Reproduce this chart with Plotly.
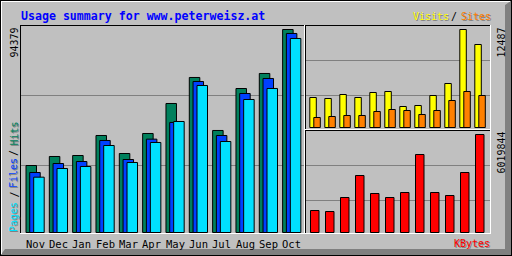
import plotly.graph_objects as go

# ---------------- data ----------------
months = ["Nov", "Dec", "Jan", "Feb", "Mar", "Apr", "May", "Jun", "Jul", "Aug", "Sep", "Oct"]
hits = [31150, 35340, 35800, 45100, 36730, 46030, 59980, 72070, 47430, 66950, 73930, 94379]
files = [27900, 32080, 33010, 42780, 33940, 43400, 51150, 70210, 45100, 64630, 71610, 92530]
pages = [25730, 29760, 30690, 40450, 32550, 41850, 51610, 68350, 42310, 61840, 66960, 90210]
visits = [3823, 3695, 4205, 3823, 4460, 4587, 2676, 2803, 4077, 5606, 12487, 10575]
sites = [1274, 1402, 1529, 1529, 2039, 2293, 2166, 1656, 2166, 3440, 4587, 4077]
kbytes = [1351400, 1290000, 2150000, 3501400, 2395700, 2150000, 2457100,
          4791400, 2457100, 2272800, 3685700, 6019844]
title_text = "Usage summary for www.peterweisz.at"

# ---------------- style ----------------
W, H = 512, 256
BG = "#C0C0C0"
DK = "#808080"
C_HITS, C_FILES, C_PAGES = "#00805C", "#0040FF", "#00E0FF"
C_VISITS, C_SITES, C_KB = "#FFFF00", "#FF8000", "#FF0000"
MONO = "DejaVu Sans Mono"
FS = 10


def fx(px):
    return px / W


def fy(py):
    return 1 - py / H


idx = list(range(len(months)))

fig = go.Figure()

# main panel bars
bw = 0.45
for vals, col, off in [(hits, C_HITS, 0.0), (files, C_FILES, 0.16), (pages, C_PAGES, 0.33)]:
    fig.add_trace(go.Bar(x=idx, y=vals, offset=off, width=bw,
                         marker=dict(color=col, line=dict(color="black", width=1)),
                         xaxis="x", yaxis="y", hoverinfo="skip"))

# visits / sites
for vals, col, off in [(visits, C_VISITS, 0.0), (sites, C_SITES, 0.267)]:
    fig.add_trace(go.Bar(x=idx, y=vals, offset=off, width=0.433,
                         marker=dict(color=col, line=dict(color="black", width=1)),
                         xaxis="x2", yaxis="y2", hoverinfo="skip"))

# kbytes
fig.add_trace(go.Bar(x=idx, y=kbytes, offset=0.047, width=0.567,
                     marker=dict(color=C_KB, line=dict(color="black", width=1)),
                     xaxis="x3", yaxis="y3", hoverinfo="skip"))


def yrange(vmax, bot, top, z0, zmax):
    s = vmax / (z0 - zmax)
    return [-(bot - z0) * s, (z0 - top) * s]


# axes ranges
ux = 23.33
a1 = -(26.0 - 20.5) / ux
xr1 = [a1, a1 + (304.5 - 20.5) / ux]
yr1 = yrange(max(hits), 233.5, 25.5, 232.5, 29.5)
ux2 = 15.0
a2 = -(309.8 - 305.5) / ux2
xr2 = [a2, a2 + (490.5 - 305.5) / ux2]
yr2 = yrange(max(visits), 129.5, 25.5, 127.5, 29.5)
yr3 = yrange(max(kbytes), 233.5, 130.5, 232.5, 134.5)

ax = dict(visible=False, showgrid=False, zeroline=False, fixedrange=True)
fig.update_layout(
    width=W, height=H, margin=dict(l=0, r=0, t=0, b=0),
    paper_bgcolor=BG, plot_bgcolor="rgba(0,0,0,0)",
    barmode="overlay", showlegend=False,
    xaxis=dict(ax, domain=[fx(20.5), fx(304.5)], range=xr1, anchor="y"),
    yaxis=dict(ax, domain=[fy(233.5), fy(25.5)], range=yr1, anchor="x"),
    xaxis2=dict(ax, domain=[fx(305.5), fx(490.5)], range=xr2, anchor="y2"),
    yaxis2=dict(ax, domain=[fy(129.5), fy(25.5)], range=yr2, anchor="x2"),
    xaxis3=dict(ax, domain=[fx(305.5), fx(490.5)], range=xr2, anchor="y3"),
    yaxis3=dict(ax, domain=[fy(233.5), fy(130.5)], range=yr3, anchor="x3"),
)

shapes = []


def line(x0, y0, x1, y1, color, layer="above"):
    shapes.append(dict(type="line", xref="paper", yref="paper",
                       x0=fx(x0), y0=fy(y0), x1=fx(x1), y1=fy(y1),
                       line=dict(color=color, width=1), layer=layer))


def poly(pts, color):
    path = "M " + " L ".join(f"{fx(x)},{fy(y)}" for x, y in pts) + " Z"
    shapes.append(dict(type="path", xref="paper", yref="paper", path=path,
                       fillcolor=color, line=dict(width=0), layer="below"))


# outer shadow (bottom/right)
poly([(0, 256), (512, 256), (512, 0), (505, 5), (505, 249), (5, 249)], DK)
# outer black frame and white highlight
line(0, 0.5, 512, 0.5, "black")
line(0.5, 0, 0.5, 256, "black")
line(0, 255.5, 512, 255.5, "black")
line(511.5, 0, 511.5, 256, "black")
line(1, 1.5, 510, 1.5, "white")
line(1.5, 1, 1.5, 254, "white")

# gridlines
for gy in (95.5, 165.5):
    line(21, gy, 304, gy, DK, layer="below")
for gy in (60.5, 95.5):
    line(306, gy, 490, gy, DK, layer="below")
for gy in (165.5, 200.5):
    line(306, gy, 490, gy, DK, layer="below")


def panel(l, t, r, b):
    line(l, t + 0.5, r, t + 0.5, "black")
    line(l + 0.5, t, l + 0.5, b, "black")
    line(l, b + 0.5, r + 1, b + 0.5, "white")
    line(r + 0.5, t, r + 0.5, b + 1, "white")


panel(20, 25, 304, 233)
panel(305, 25, 490, 129)
panel(305, 130, 490, 233)
fig.update_layout(shapes=shapes)

ann = []


def text(s, x, y, color, size=FS, bold=False, angle=0, xanchor="center", shadow=False):
    base = dict(xref="paper", yref="paper", showarrow=False, xanchor=xanchor, yanchor="middle",
                textangle=angle, borderpad=0)
    txt = f"<b>{s}</b>" if bold else s
    if shadow:
        ann.append(dict(base, text=txt, x=fx(x + 1), y=fy(y + 1),
                        font=dict(family=MONO, size=size, color=DK)))
    ann.append(dict(base, text=txt, x=fx(x), y=fy(y),
                    font=dict(family=MONO, size=size, color=color)))


text(title_text, 20, 15.5, "#0000FF", size=11.6, bold=True, xanchor="left")
text("Visits", 412, 16.5, C_VISITS, xanchor="left", shadow=True)
text("/", 453.5, 16.5, "black")
text("Sites", 459.5, 16.5, C_SITES, xanchor="left", shadow=True)
text("KBytes", 453, 243.5, C_KB, xanchor="left", shadow=True)

# left vertical legend
text("Pages", 13.5, 217.5, C_PAGES, angle=-90, shadow=True)
text("/", 13.5, 195, "black", angle=-90)
text("Files", 13.5, 173.5, C_FILES, angle=-90, shadow=True)
text("/", 13.5, 153.5, "black", angle=-90)
text("Hits", 13.5, 134, C_HITS, angle=-90, shadow=True)

# max value labels
text(str(max(hits)), 13.5, 43, "black", angle=-90)
text(str(max(visits)), 501, 42.5, "black", angle=-90)
text(str(max(kbytes)), 501, 152.5, "black", angle=-90)

# month labels under each group
for i, m in zip(idx, months):
    ann.append(dict(xref="x", yref="paper", x=i + (0.33 + bw) / 2, y=fy(243.5),
                    text=m, showarrow=False, xanchor="center", yanchor="middle",
                    font=dict(family=MONO, size=FS + 0.5, color="black")))

fig.update_layout(annotations=ann)
fig.write_html("out.html")
